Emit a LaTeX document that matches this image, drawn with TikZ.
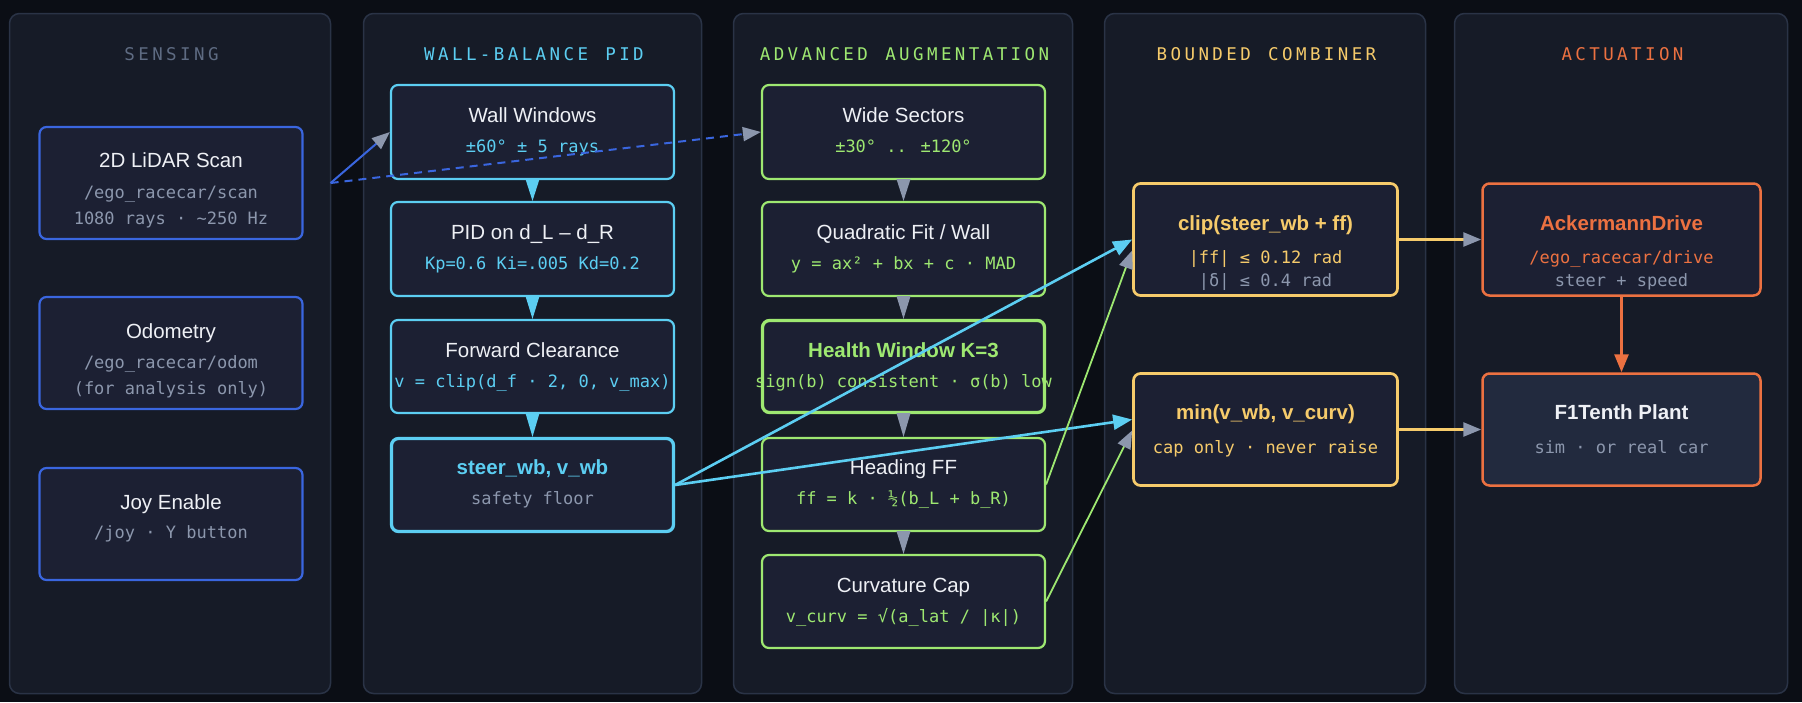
\documentclass[tikz,border=0pt]{standalone}
\usepackage{fontspec}
\setmainfont{Liberation Sans}
\newfontfamily\monof{DejaVu Sans Mono}
\usetikzlibrary{arrows.meta,calc}

\definecolor{bg}{HTML}{0B0E15}
\definecolor{panelfill}{HTML}{161B27}
\definecolor{panelline}{HTML}{2A3346}
\definecolor{boxfill}{HTML}{1C2033}
\definecolor{plantfill}{HTML}{222A3E}
\definecolor{cblue}{HTML}{3A66DF}
\definecolor{ccyan}{HTML}{5CCEF2}
\definecolor{cgreen}{HTML}{9EE871}
\definecolor{cyellow}{HTML}{F6CB6B}
\definecolor{corange}{HTML}{EC7141}
\definecolor{cgray}{HTML}{8C97AD}
\definecolor{cwhite}{HTML}{EEF0F5}
\definecolor{cslate}{HTML}{5E6B82}

\newcommand\spc[1]{\spcaux#1\relax}
\def\spcaux#1{\ifx#1\relax\else#1\hspace{3.4pt}\expandafter\spcaux\fi}

\tikzset{
  panel/.style={draw=panelline, line width=1.5pt, fill=panelfill, rounded corners=10pt},
  ptitle/.style={anchor=base, inner sep=0pt, font=\monof\fontsize{17.5}{20}\selectfont},
  box/.style={draw, line width=2.2pt, fill=boxfill, rounded corners=7pt, inner sep=0pt},
  thick box/.style={box, line width=3.3pt},
  ttl/.style={anchor=base, inner sep=0pt, text=cwhite, font=\fontsize{20.5}{24}\selectfont},
  bttl/.style={anchor=base, inner sep=0pt, font=\bfseries\fontsize{20.5}{24}\selectfont},
  sub/.style={anchor=base, inner sep=0pt, font=\monof\fontsize{17}{20}\selectfont},
  tip/.style={-{Triangle[length=18pt,width=14pt,color=cgray]}},
}

\begin{document}
\begin{tikzpicture}[x=1pt,y=-1pt]
\useasboundingbox (0,0) rectangle (1802,702);
\fill[bg] (0,0) rectangle (1802,702);

% panels
\node[panel, minimum width=321pt, minimum height=680pt] (p1) at (170,353.5) {};
\node[panel, minimum width=338pt, minimum height=680pt] (p2) at (532.5,353.5) {};
\node[panel, minimum width=339pt, minimum height=680pt] (p3) at (903,353.5) {};
\node[panel, minimum width=321pt, minimum height=680pt] (p4) at (1265,353.5) {};
\node[panel, minimum width=333pt, minimum height=680pt] (p5) at (1621,353.5) {};

\node[ptitle, text=cslate] (t1) at (171.5,60.5) {\spc{SENSING}};
\node[ptitle, text=ccyan] (t2) at (534,60.5) {\spc{WALL-BALANCE~PID}};
\node[ptitle, text=cgreen] (t3) at (904.5,60.5) {\spc{ADVANCED~AUGMENTATION}};
\node[ptitle, text=cyellow] (t4) at (1266.5,60.5) {\spc{BOUNDED~COMBINER}};
\node[ptitle, text=corange] (t5) at (1622.5,60.5) {\spc{ACTUATION}};

% sensing boxes
\node[box, draw=cblue, minimum width=263pt, minimum height=112pt] (lidar) at (171,183) {};
\node[box, draw=cblue, minimum width=263pt, minimum height=112pt] (odom) at (171,353) {};
\node[box, draw=cblue, minimum width=263pt, minimum height=112pt] (joy) at (171,524) {};

% wall-balance boxes
\node[box, draw=ccyan, minimum width=283pt, minimum height=94pt] (ww) at (532.5,132) {};
\node[box, draw=ccyan, minimum width=283pt, minimum height=94pt] (pid) at (532.5,249) {};
\node[box, draw=ccyan, minimum width=283pt, minimum height=93pt] (fwd) at (532.5,366.5) {};
\node[thick box, draw=ccyan, minimum width=282pt, minimum height=93pt] (steer) at (532.5,485) {};

% advanced boxes
\node[box, draw=cgreen, minimum width=283pt, minimum height=94pt] (wide) at (903.5,132) {};
\node[box, draw=cgreen, minimum width=283pt, minimum height=94pt] (quad) at (903.5,249) {};
\node[thick box, draw=cgreen, minimum width=282pt, minimum height=92pt] (health) at (903.5,366.5) {};
\node[box, draw=cgreen, minimum width=283pt, minimum height=93pt] (head) at (903.5,484.5) {};
\node[box, draw=cgreen, minimum width=283pt, minimum height=93pt] (curv) at (903.5,601.5) {};

% combiner boxes
\node[box, line width=2.7pt, draw=cyellow, minimum width=264pt, minimum height=112pt] (clip) at (1265.5,239.5) {};
\node[box, line width=2.7pt, draw=cyellow, minimum width=264pt, minimum height=112pt] (minn) at (1265.5,429.5) {};

% actuation boxes
\node[box, line width=2.5pt, draw=corange, minimum width=278pt, minimum height=112pt] (ack) at (1621.5,239.5) {};
\node[box, line width=2.5pt, draw=corange, fill=plantfill, minimum width=278pt, minimum height=112pt] (plant) at (1621.5,429.5) {};

% texts: sensing
\node[ttl] (lidar-t) at ($(lidar.north)+(0,42)$) {2D LiDAR Scan};
\node[sub, text=cgray] (lidar-s1) at ($(lidar.north)+(0,73)$) {/ego\_racecar/scan};
\node[sub, text=cgray] (lidar-s2) at ($(lidar.north)+(0,99)$) {1080 rays · \textasciitilde250 Hz};
\node[ttl] (odom-t) at ($(odom.north)+(0,43)$) {Odometry};
\node[sub, text=cgray] (odom-s1) at ($(odom.north)+(0,73)$) {/ego\_racecar/odom};
\node[sub, text=cgray] (odom-s2) at ($(odom.north)+(0,99)$) {(for analysis only)};
\node[ttl] (joy-t) at ($(joy.north)+(0,43)$) {Joy Enable};
\node[sub, text=cgray] (joy-s1) at ($(joy.north)+(0,72)$) {/joy · Y button};

% texts: wall-balance
\node[ttl] (ww-t) at ($(ww.north)+(0,39)$) {Wall Windows};
\node[sub, text=ccyan] (ww-s) at ($(ww.north)+(0,69)$) {±60° ± 5 rays};
\node[ttl] (pid-t) at ($(pid.north)+(0,39)$) {PID on d\_L – d\_R};
\node[sub, text=ccyan] (pid-s) at ($(pid.north)+(0,69)$) {Kp=0.6 Ki=.005 Kd=0.2};
\node[ttl] (fwd-t) at ($(fwd.north)+(0,39)$) {Forward Clearance};
\node[sub, text=ccyan] (fwd-s) at ($(fwd.north)+(0,69)$) {v = clip(d\_f · 2, 0, v\_max)};
\node[bttl, text=ccyan] (steer-t) at ($(steer.north)+(0,38)$) {steer\_wb, v\_wb};
\node[sub, text=cgray] (steer-s) at ($(steer.north)+(0,68)$) {safety floor};

% texts: advanced
\node[ttl] (wide-t) at ($(wide.north)+(0,39)$) {Wide Sectors};
\node[sub, text=cgreen] (wide-s) at ($(wide.north)+(0,69)$) {±30° .. ±120°};
\node[ttl] (quad-t) at ($(quad.north)+(0,39)$) {Quadratic Fit / Wall};
\node[sub, text=cgreen] (quad-s) at ($(quad.north)+(0,69)$) {y = ax² + bx + c · MAD};
\node[bttl, text=cgreen] (health-t) at ($(health.north)+(0,39)$) {Health Window K=3};
\node[sub, text=cgreen] (health-s) at ($(health.north)+(0,69)$) {sign(b) consistent · σ(b) low};
\node[ttl] (head-t) at ($(head.north)+(0,38)$) {Heading FF};
\node[sub, text=cgreen] (head-s) at ($(head.north)+(0,68)$) {ff = k · ½(b\_L + b\_R)};
\node[ttl] (curv-t) at ($(curv.north)+(0,39)$) {Curvature Cap};
\node[sub, text=cgreen] (curv-s) at ($(curv.north)+(0,69)$) {v\_curv = √(a\_lat / |κ|)};

% texts: combiner
\node[bttl, text=cyellow] (clip-t) at ($(clip.north)+(0,48)$) {clip(steer\_wb + ff)};
\node[sub, text=cyellow] (clip-s1) at ($(clip.north)+(0,81)$) {|ff| ≤ 0.12 rad};
\node[sub, text=cgray] (clip-s2) at ($(clip.north)+(0,104)$) {|δ| ≤ 0.4 rad};
\node[bttl, text=cyellow] (minn-t) at ($(minn.north)+(0,47)$) {min(v\_wb, v\_curv)};
\node[sub, text=cyellow] (minn-s) at ($(minn.north)+(0,81)$) {cap only · never raise};

% texts: actuation
\node[bttl, text=corange] (ack-t) at ($(ack.north)+(0,48)$) {AckermannDrive};
\node[sub, text=corange] (ack-s1) at ($(ack.north)+(0,81)$) {/ego\_racecar/drive};
\node[sub, text=cgray] (ack-s2) at ($(ack.north)+(0,104)$) {steer + speed};
\node[bttl, text=cwhite] (plant-t) at ($(plant.north)+(0,47)$) {F1Tenth Plant};
\node[sub, text=cgray] (plant-s) at ($(plant.north)+(0,81)$) {sim · or real car};

% column flow triangles
\foreach \a/\b in {ww/pid, pid/fwd, fwd/steer}{
  \fill[ccyan] ($(\a.south)+(-7,-1)$) -- ($(\a.south)+(7,-1)$) -- (\b.north) -- cycle;
}
\foreach \a/\b in {wide/quad, quad/health, health/head, head/curv}{
  \fill[cgray] ($(\a.south)+(-7,-1)$) -- ($(\a.south)+(7,-1)$) -- (\b.north) -- cycle;
}

% connectors
\coordinate (scanout) at ($(lidar.east)+(27,0)$);
\draw[cblue, line width=2pt, tip] (scanout) -- (ww.west);
\draw[cblue, line width=2pt, dash pattern=on 8pt off 6pt, tip] (scanout) -- (wide.west);

\draw[ccyan, line width=2.6pt, -{Triangle[length=19pt,width=15pt]}] (steer.east) -- (clip.west);
\draw[ccyan, line width=2.6pt, -{Triangle[length=19pt,width=15pt]}] (steer.east) -- ($(minn.west)+(0,-10)$);

\draw[cgreen, line width=1.8pt, tip] (head.east) -- ($(clip.west)+(0,11)$);
\draw[cgreen, line width=1.8pt, tip] (curv.east) -- ($(minn.west)+(0,1)$);

\draw[cyellow, line width=2.7pt, tip] (clip.east) -- (ack.west);
\draw[cyellow, line width=2.7pt, tip] (minn.east) -- (plant.west);

\draw[corange, line width=2.7pt, -{Triangle[length=18pt,width=14pt]}] (ack.south) -- (plant.north);
\end{tikzpicture}
\end{document}
